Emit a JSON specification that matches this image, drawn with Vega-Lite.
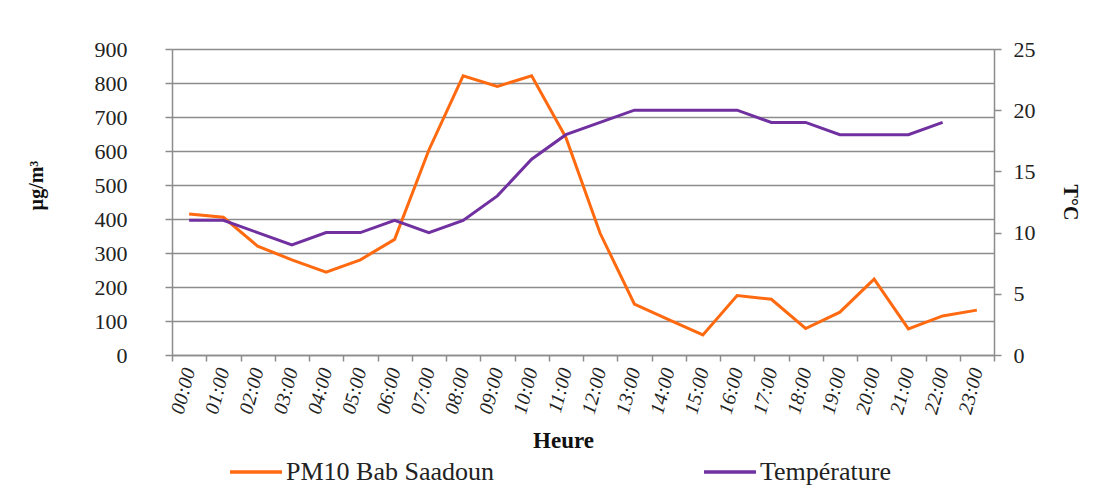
{
  "$schema": "https://vega.github.io/schema/vega-lite/v6.json",
  "width": 822,
  "height": 306,
  "autosize": {"type": "none"},
  "padding": {"left": 172, "top": 49, "right": 99, "bottom": 136},
  "background": "white",
  "config": {
    "view": {"stroke": null},
    "font": "Liberation Serif",
    "style": {"guide-label": {"font": "Liberation Serif"}, "guide-title": {"font": "Liberation Serif"}},
    "legend": {"labelFont": "Liberation Serif", "titleFont": "Liberation Serif"},
    "axis": {"labelFont": "Liberation Serif", "titleFont": "Liberation Serif", "labelColor": "#222", "titleColor": "#111", "domainColor": "#8c8c8c", "tickColor": "#8c8c8c", "gridColor": "#8c8c8c", "domainWidth": 1.5, "tickWidth": 1.5, "gridWidth": 1.5}
  },
  "data": {
    "values": [
      {"hour": "00:00", "pm10": 415, "temp": 11},
      {"hour": "01:00", "pm10": 405, "temp": 11},
      {"hour": "02:00", "pm10": 320, "temp": 10},
      {"hour": "03:00", "pm10": 280, "temp": 9},
      {"hour": "04:00", "pm10": 244, "temp": 10},
      {"hour": "05:00", "pm10": 280, "temp": 10},
      {"hour": "06:00", "pm10": 340, "temp": 11},
      {"hour": "07:00", "pm10": 603, "temp": 10},
      {"hour": "08:00", "pm10": 821, "temp": 11},
      {"hour": "09:00", "pm10": 790, "temp": 13},
      {"hour": "10:00", "pm10": 821, "temp": 16},
      {"hour": "11:00", "pm10": 640, "temp": 18},
      {"hour": "12:00", "pm10": 358, "temp": 19},
      {"hour": "13:00", "pm10": 150, "temp": 20},
      {"hour": "14:00", "pm10": 104, "temp": 20},
      {"hour": "15:00", "pm10": 59, "temp": 20},
      {"hour": "16:00", "pm10": 175, "temp": 20},
      {"hour": "17:00", "pm10": 164, "temp": 19},
      {"hour": "18:00", "pm10": 78, "temp": 19},
      {"hour": "19:00", "pm10": 126, "temp": 18},
      {"hour": "20:00", "pm10": 223, "temp": 18},
      {"hour": "21:00", "pm10": 77, "temp": 18},
      {"hour": "22:00", "pm10": 115, "temp": 19},
      {"hour": "23:00", "pm10": 132, "temp": null}
    ]
  },
  "encoding": {
    "x": {
      "field": "hour", "type": "ordinal", "bandPosition": 0.5,
      "scale": {"type": "band", "paddingInner": 0, "paddingOuter": 0},
      "axis": {"title": "Heure", "titleFontSize": 23, "titleFontWeight": "bold", "titlePadding": 14, "titleX": 391, "labelAngle": -75, "labelFontSize": 20, "labelFontStyle": "italic", "tickBand": "extent", "tickSize": 6, "labelPadding": 7, "grid": false}
    },
    "color": {"datum": "x", "type": "nominal"}
  },
  "layer": [
    {
      "mark": {"type": "line", "strokeWidth": 3},
      "encoding": {
        "y": {"field": "pm10", "type": "quantitative", "scale": {"domain": [0, 900]},
          "axis": {"title": "µg/m³", "titleFontSize": 20, "titleFontWeight": "bold", "titlePadding": 48, "titleY": 136, "values": [0,100,200,300,400,500,600,700,800,900], "labelFontSize": 22, "labelPadding": 38, "tickSize": 7, "grid": true}},
        "color": {"datum": "PM10 Bab Saadoun", "type": "nominal",
          "scale": {"domain": ["PM10 Bab Saadoun", "Température"], "range": ["#FF6A10", "#7030A0"]},
          "legend": {"title": null, "orient": "none", "legendX": 56, "legendY": 395, "direction": "horizontal", "symbolType": "stroke", "symbolSize": 2700, "symbolStrokeWidth": 3.5, "labelFontSize": 26, "labelFont": "Liberation Serif", "labelColor": "#222", "columnPadding": 203, "labelOffset": 2, "labelLimit": 400}}
      }
    },
    {
      "mark": {"type": "line", "strokeWidth": 3},
      "encoding": {
        "y": {"field": "temp", "type": "quantitative", "scale": {"domain": [0, 25]},
          "axis": {"orient": "right", "title": "T°C", "titleFontSize": 20, "titleFontWeight": "bold", "titlePadding": 24, "values": [0,5,10,15,20,25], "labelFontSize": 22, "labelPadding": 12, "tickSize": 7, "grid": false}},
        "color": {"datum": "Température", "type": "nominal"}
      }
    }
  ],
  "resolve": {"scale": {"y": "independent"}}
}
